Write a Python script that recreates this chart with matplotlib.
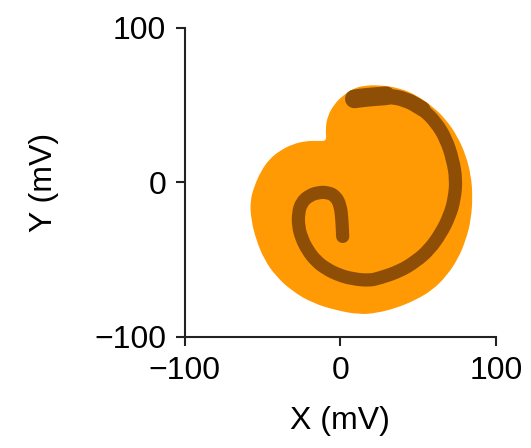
import matplotlib.pyplot as plt
from matplotlib.path import Path
from matplotlib.patches import PathPatch

plt.rcParams['font.family'] = ['Liberation Sans', 'DejaVu Sans']

# outline of the region filled by all trajectories (mV)
region_x = [-8.8, -9.6, -8.2, -3.9, 1.5, 7.9, 14.4, 25, 38, 48.7, 59.4, 68, 75.4, 80.8,
            84, 85, 84, 80.8, 75.4, 68, 59.4, 48.7, 35.8, 23, 12.2, -2.8, -17.8, -30.7,
            -41.4, -48.9, -54.2, -57.4, -58, -55.3, -51, -45.7, -39.2, -30.7, -22, -13.5]
region_y = [26.8, 34.4, 43, 50.6, 56, 60.4, 62.5, 63, 61, 56.5, 49, 40.5, 29.5, 17.1,
            4.1, -8.9, -24, -37, -50, -60.8, -69.5, -76, -81.4, -84.6, -85.5, -82.8,
            -78.1, -70.6, -60.8, -50, -37, -24, -12, -2.4, 7.3, 14.9, 20.3, 24.7, 26.8, 26.8]

# single spiral trajectory (mV)
traj_x = [1.5, 1, 0, -3, -8, -14, -20, -25, -27, -27, -25, -21, -15.6, -9, -1, 8, 18.6,
          25, 38, 48.7, 57.2, 64.8, 70.1, 73.3, 74.4, 72.2, 68, 61.5, 52.9, 42.2, 29.4,
          16.5, 9]
traj_y = [-35, -24, -15, -9, -6.5, -6.5, -8.5, -13, -20, -28, -36, -44, -51, -56, -60,
          -62.5, -63.5, -62, -57.6, -51, -43.5, -32.7, -21.9, -11, 2, 14.9, 27.9, 38.8,
          47.4, 53.9, 56, 55, 54]


def mid(p, q):
    return ((p[0] + q[0]) / 2, (p[1] + q[1]) / 2)


def smooth_path(xs, ys, closed=False):
    # quadratic curves through the midpoints, the given points act as controls
    pts = list(zip(xs, ys))
    n = len(pts)
    if closed:
        verts = [mid(pts[-1], pts[0])]
        codes = [Path.MOVETO]
        for i in range(n):
            verts += [pts[i], mid(pts[i], pts[(i + 1) % n])]
            codes += [Path.CURVE3, Path.CURVE3]
        verts.append(verts[0])
        codes.append(Path.CLOSEPOLY)
    else:
        verts = [pts[0], mid(pts[0], pts[1])]
        codes = [Path.MOVETO, Path.LINETO]
        for i in range(1, n - 1):
            verts += [pts[i], mid(pts[i], pts[i + 1])]
            codes += [Path.CURVE3, Path.CURVE3]
        verts.append(pts[-1])
        codes.append(Path.LINETO)
    return Path(verts, codes)


brown = '#8F4E06'

fig = plt.figure(figsize=(5.31, 4.48), dpi=100)
ax = fig.add_axes([0.348, 0.248, 0.586, 0.690])

ax.add_patch(PathPatch(smooth_path(region_x, region_y, closed=True),
                       facecolor='#FF9A05', lw=0))
ax.add_patch(PathPatch(smooth_path(traj_x, traj_y), fill=False, edgecolor=brown,
                       lw=9.5, capstyle='round', joinstyle='round'))
# the trajectory lingers near its end, so the band gets wider there
for n_last, width in ((5, 11), (3, 13.5)):
    ax.add_patch(PathPatch(smooth_path(traj_x[-n_last:], traj_y[-n_last:]), fill=False,
                           edgecolor=brown, lw=width, capstyle='round',
                           joinstyle='round'))

ax.set_xlim(-100, 100)
ax.set_ylim(-100, 100)
ax.set_xticks([-100, 0, 100])
ax.set_yticks([-100, 0, 100])
ax.spines['top'].set_visible(False)
ax.spines['right'].set_visible(False)
for s in ('left', 'bottom'):
    ax.spines[s].set_linewidth(1.5)
    ax.spines[s].set_color('#222222')
ax.tick_params(direction='out', length=6.5, width=1.5, labelsize=23, pad=7,
               color='#222222')
ax.set_xlabel('X (mV)', fontsize=23, labelpad=15)
ax.set_ylabel('Y (mV)', fontsize=23, labelpad=25)

fig.savefig('out.png', dpi=100)
